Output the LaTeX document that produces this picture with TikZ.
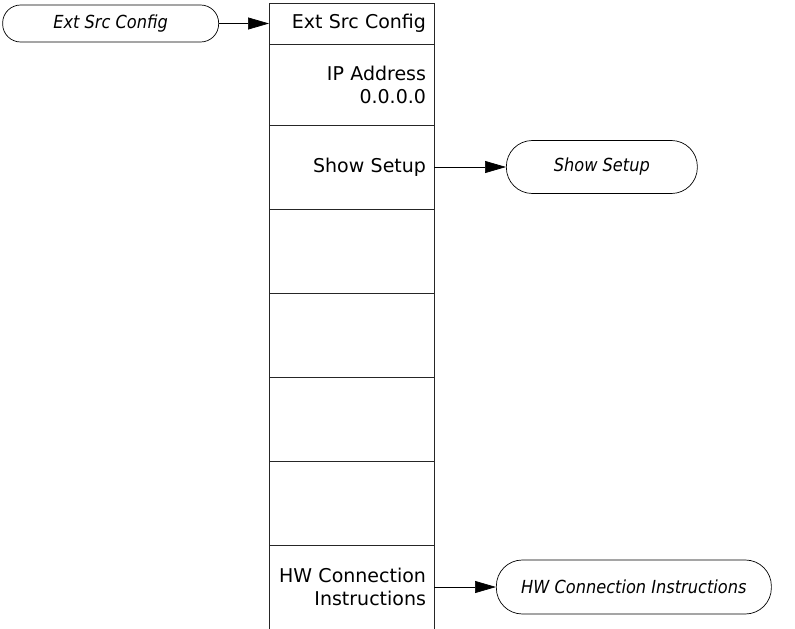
\documentclass[tikz,border=0pt]{standalone}
\usepackage{fontspec}
\setmainfont{DejaVu Sans}
\newfontfamily\ovalfont[FakeStretch=0.9]{DejaVu Sans}
\usetikzlibrary{positioning,arrows.meta}

\begin{document}
\begin{tikzpicture}[x=1pt, y=-1pt,
  softkey/.style={draw=black!85, line width=0.8pt, outer sep=0pt, text width=149pt, inner xsep=8pt, align=right, font=\fontsize{19}{23}\selectfont},
  screen/.style={draw, line width=0.7pt, rounded corners=#1, font=\ovalfont\itshape\fontsize{18}{21}\selectfont},
  screen/.default=26pt,
  link/.style={line width=0.7pt, -{Triangle[length=21pt,width=12pt]}}]
  \useasboundingbox (0,0) rectangle (795,629);
  \node[softkey, minimum height=41pt] (title) at (351.5,23.5) {Ext Src Config};
  \node[softkey, minimum height=81pt, below=0pt of title] (ipaddr) {IP Address\\0.0.0.0};
  \node[softkey, minimum height=84pt, below=0pt of ipaddr] (setup) {Show Setup};
  \node[softkey, minimum height=84pt, below=0pt of setup] (blanka) {};
  \node[softkey, minimum height=84pt, below=0pt of blanka] (blankb) {};
  \node[softkey, minimum height=84pt, below=0pt of blankb] (blankc) {};
  \node[softkey, minimum height=84pt, below=0pt of blankc] (blankd) {};
  \node[softkey, draw=none, minimum height=84pt, below=0pt of blankd] (hwconn) {HW Connection\\Instructions};
  \draw[black!85, line width=0.8pt] (hwconn.north west) -- (hwconn.south west);
  \draw[black!85, line width=0.8pt] (hwconn.north east) -- (hwconn.south east);
  \node[screen=18pt, minimum width=216pt, minimum height=37pt, left=50pt of title] (extsrc) {Ext Src Config};
  \node[screen, minimum width=191pt, minimum height=53pt, right=72pt of setup] (setupscreen) {Show Setup};
  \node[screen, minimum width=275pt, minimum height=54pt, right=62pt of hwconn] (hwscreen) {HW Connection Instructions};
  \draw[link] (extsrc) -- (title);
  \draw[link] (setup) -- (setupscreen);
  \draw[link] (hwconn) -- (hwscreen);
\end{tikzpicture}
\end{document}
